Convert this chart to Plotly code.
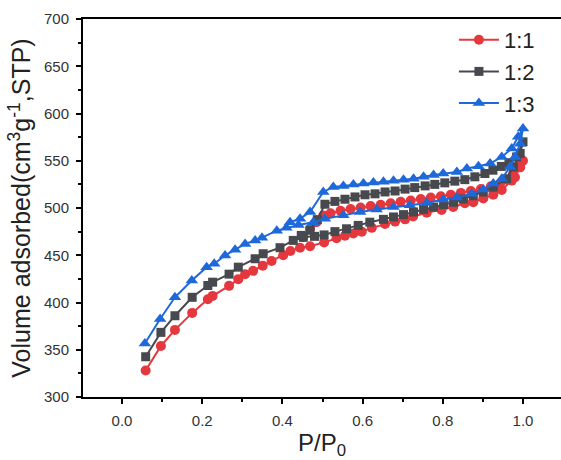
import plotly.graph_objects as go

# ---- data ----
# 1:1 series
r11_ads_x = [0.059, 0.097, 0.132, 0.175, 0.214, 0.226, 0.267, 0.290, 0.307, 0.327, 0.351, 0.373, 0.402, 0.420,
             0.444, 0.469, 0.504, 0.535, 0.556, 0.577, 0.598, 0.623, 0.656, 0.681, 0.706, 0.726, 0.760, 0.797,
             0.826, 0.855, 0.876, 0.901, 0.926, 0.947, 0.972, 0.980, 0.993, 1.000]
r11_ads_y = [328, 354, 371, 389, 403.5, 407, 417.6, 424.7, 430, 433.5, 439, 444, 450, 454.5,
             458, 459.5, 463.6, 468, 470.7, 473, 475, 479, 483, 485.6, 488, 491, 495, 498,
             501, 505, 506, 510, 514, 519, 529, 532.6, 543, 550]
r11_des_x = [0.990, 0.975, 0.960, 0.943, 0.920, 0.895, 0.870, 0.845, 0.820, 0.795, 0.770, 0.745, 0.720, 0.695,
             0.670, 0.645, 0.620, 0.595, 0.570, 0.545, 0.520, 0.502, 0.485, 0.469, 0.452]
r11_des_y = [545, 536, 530, 526, 523, 520, 518, 516, 514, 512.5, 511, 509.5, 508, 506.5,
             505, 503.5, 502, 500.5, 499, 497, 494.5, 492, 485, 478, 469]

# 1:2 series
r12_ads_x = [0.059, 0.097, 0.132, 0.175, 0.214, 0.226, 0.267, 0.290, 0.332, 0.352, 0.394, 0.427, 0.452, 0.480,
             0.504, 0.531, 0.560, 0.589, 0.618, 0.652, 0.677, 0.702, 0.727, 0.752, 0.777, 0.802, 0.827, 0.851,
             0.876, 0.901, 0.926, 0.959, 0.976, 0.993, 1.000]
r12_ads_y = [342.6, 368.4, 386, 405.5, 418, 421.5, 430, 437.4, 446.3, 451.6, 458, 465.7, 469, 470,
             471.5, 475, 478, 481.6, 485, 488, 490.5, 493, 495.8, 498.5, 501, 503.5, 506, 509.5,
             513, 517, 522, 531, 543.5, 557.7, 570]
r12_des_x = [0.984, 0.965, 0.946, 0.925, 0.905, 0.880, 0.855, 0.830, 0.805, 0.780, 0.756, 0.730, 0.706, 0.681,
             0.656, 0.631, 0.606, 0.581, 0.556, 0.531, 0.506, 0.487, 0.469, 0.447]
r12_des_y = [554, 548, 544, 540, 536.5, 533, 530, 528.4, 526.6, 525, 523.4, 521.6, 520, 518,
             517, 515, 514, 511.7, 509.3, 507, 504, 487.7, 476.4, 471]

# 1:3 series
r13_ads_x = [0.057, 0.095, 0.132, 0.174, 0.211, 0.230, 0.257, 0.282, 0.307, 0.332, 0.349, 0.386, 0.410, 0.440,
             0.477, 0.506, 0.552, 0.594, 0.635, 0.677, 0.718, 0.760, 0.801, 0.835, 0.872, 0.901, 0.926, 0.947,
             0.968, 0.980, 0.993, 1.000]
r13_ads_y = [356.7, 382.6, 405.5, 423.2, 437.4, 441, 449.8, 455.8, 462, 465.7, 468.6, 476, 479, 482,
             485, 488.7, 492.2, 495.8, 498.3, 501, 503, 505.3, 509, 511, 515, 519.5, 526, 531,
             543.5, 554, 568, 584]
r13_des_x = [0.988, 0.972, 0.947, 0.918, 0.889, 0.860, 0.835, 0.801, 0.777, 0.752, 0.727, 0.702, 0.677, 0.652,
             0.627, 0.602, 0.577, 0.552, 0.527, 0.502, 0.469, 0.444, 0.419]
r13_des_y = [575.4, 563, 554, 547, 544.3, 541.8, 538, 536.5, 534.8, 533, 531, 530, 528.8, 527.7,
             527, 526, 524.8, 523.4, 522.3, 517, 495.8, 488.7, 485]

names = ["1:1", "1:2", "1:3"]
colors = ["#E5383E", "#48494E", "#1E69DA"]
symbols = ["circle", "square", "triangle-up"]
sizes = [10, 9, 11]

series = [
    (r11_ads_x + r11_des_x, r11_ads_y + r11_des_y),
    (r12_ads_x + r12_des_x, r12_ads_y + r12_des_y),
    (r13_ads_x + r13_des_x, r13_ads_y + r13_des_y),
]

FONT = "Liberation Sans, Arial, sans-serif"

fig = go.Figure()
for (xs, ys), n, c, s, sz in zip(series, names, colors, symbols, sizes):
    fig.add_trace(go.Scatter(
        x=xs, y=ys, name=n, mode="lines+markers",
        line=dict(color=c, width=2),
        marker=dict(color=c, symbol=s, size=sz),
    ))

fig.update_layout(
    width=561, height=460,
    margin=dict(l=83, r=0, t=19, b=63, autoexpand=False),
    paper_bgcolor="white", plot_bgcolor="white",
    font=dict(family=FONT, color="#222222"),
    showlegend=True,
    legend=dict(
        x=0.776, y=1.0, xanchor="left", yanchor="top",
        bgcolor="rgba(0,0,0,0)", font=dict(size=22, family=FONT, color="#222222"),
        tracegroupgap=0, itemwidth=40,
    ),
    xaxis=dict(
        range=[-0.0973, 1.0948],
        tickmode="array", tickvals=[0.0, 0.2, 0.4, 0.6, 0.8, 1.0],
        ticktext=["0.0", "0.2", "0.4", "0.6", "0.8", "1.0"],
        ticks="outside", ticklen=5, tickwidth=1.5, tickcolor="black",
        minor=dict(tickvals=[0.1, 0.3, 0.5, 0.7, 0.9], ticks="outside", ticklen=3, tickwidth=1.5, tickcolor="black"),
        showline=True, linecolor="black", linewidth=2, mirror=True,
        showgrid=False, zeroline=False, automargin=False,
        ticklabelstandoff=4,
        tickfont=dict(size=15, family=FONT, color="#333333"),
        title=dict(text="P/P<sub>0</sub>", font=dict(size=24, family=FONT, color="#222222"), standoff=14),
    ),
    yaxis=dict(
        range=[300, 700],
        tickmode="array", tickvals=[300, 350, 400, 450, 500, 550, 600, 650, 700],
        ticks="outside", ticklen=5, tickwidth=1.5, tickcolor="black",
        minor=dict(tickvals=[325, 375, 425, 475, 525, 575, 625, 675], ticks="outside", ticklen=3, tickwidth=1.5, tickcolor="black"),
        showline=True, linecolor="black", linewidth=2, mirror=False,
        showgrid=False, zeroline=False, automargin=False,
        ticklabelstandoff=4,
        tickfont=dict(size=15, family=FONT, color="#333333"),
        title=dict(text="Volume adsorbed(cm<sup>3</sup>g<sup>-1</sup>,STP)",
                   font=dict(size=25, family=FONT, color="#222222"), standoff=6),
    ),
)

fig.write_html("out.html", config={"displayModeBar": False},
               post_script="document.body.style.margin='0';")
